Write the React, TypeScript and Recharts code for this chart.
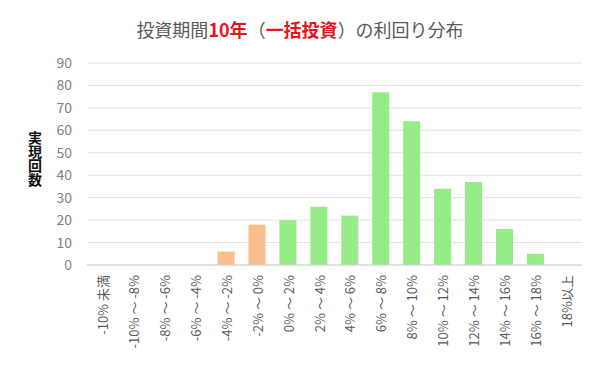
import { BarChart, Bar, Cell, XAxis, YAxis, CartesianGrid } from "recharts";

const categories = [
  "-10% 未満",
  "-10% ～ -8%",
  "-8% ～ -6%",
  "-6% ～ -4%",
  "-4% ～ -2%",
  "-2% ～ 0%",
  "0% ～ 2%",
  "2% ～ 4%",
  "4% ～ 6%",
  "6% ～ 8%",
  "8% ～ 10%",
  "10% ～ 12%",
  "12% ～ 14%",
  "14% ～ 16%",
  "16% ～ 18%",
  "18%以上",
];
const counts = [0, 0, 0, 0, 6, 18, 20, 26, 22, 77, 64, 34, 37, 16, 5, 0];
const yTicks = [0, 10, 20, 30, 40, 50, 60, 70, 80, 90];

const FONT = "'Noto Sans CJK JP', 'Noto Sans', sans-serif";
const GREEN = "#96ec86";
const ORANGE = "#f9be8c";

const data = categories.map((name, i) => ({ name, value: counts[i] }));

function XTick({ x, y, payload }: any) {
  return (
    <text
      x={x}
      y={y + 2}
      transform={`rotate(-90, ${x}, ${y + 2})`}
      textAnchor="end"
      dominantBaseline="central"
      fontSize={13}
      fill="#595959"
      fontFamily={FONT}
    >
      {payload.value}
    </text>
  );
}

export default function App() {
  return (
    <div style={{ position: "absolute", left: 0, top: 0, width: 600, height: 383, background: "#fff" }}>
      <div
        style={{
          position: "absolute",
          top: 17,
          left: 0,
          width: 600,
          textAlign: "center",
          fontFamily: FONT,
          fontSize: 18,
          color: "#595959",
          lineHeight: "24px",
        }}
      >
        投資期間<span style={{ color: "#e8141c", fontWeight: "bold" }}>10年</span>（
        <span style={{ color: "#e8141c", fontWeight: "bold" }}>一括投資</span>）の利回り分布
      </div>
      {/* vertical axis title */}
      <div
        style={{
          position: "absolute",
          left: 26,
          top: 131,
          writingMode: "vertical-rl",
          fontFamily: FONT,
          fontSize: 14,
          fontWeight: "bold",
          color: "#111",
          lineHeight: "18px",
          letterSpacing: 0,
        }}
      >
        実現回数
      </div>
      <BarChart
        width={600}
        height={383}
        data={data}
        margin={{ top: 63, right: 18, bottom: 0, left: 0 }}
        barCategoryGap="22%"
      >
        <CartesianGrid vertical={false} stroke="#e2e2e2" />
        <XAxis
          dataKey="name"
          interval={0}
          tickLine={false}
          axisLine={{ stroke: "#d4d4d4" }}
          height={118}
          tick={<XTick />}
        />
        <YAxis
          width={87}
          domain={[0, 90]}
          ticks={yTicks}
          interval={0}
          axisLine={false}
          tickLine={false}
          tickMargin={9}
          tick={{ fontSize: 14, fill: "#7f7f7f", fontFamily: FONT }}
        />
        <Bar dataKey="value" isAnimationActive={false}>
          {data.map((d, i) => (
            <Cell key={d.name} fill={i < 6 ? ORANGE : GREEN} />
          ))}
        </Bar>
      </BarChart>
    </div>
  );
}
